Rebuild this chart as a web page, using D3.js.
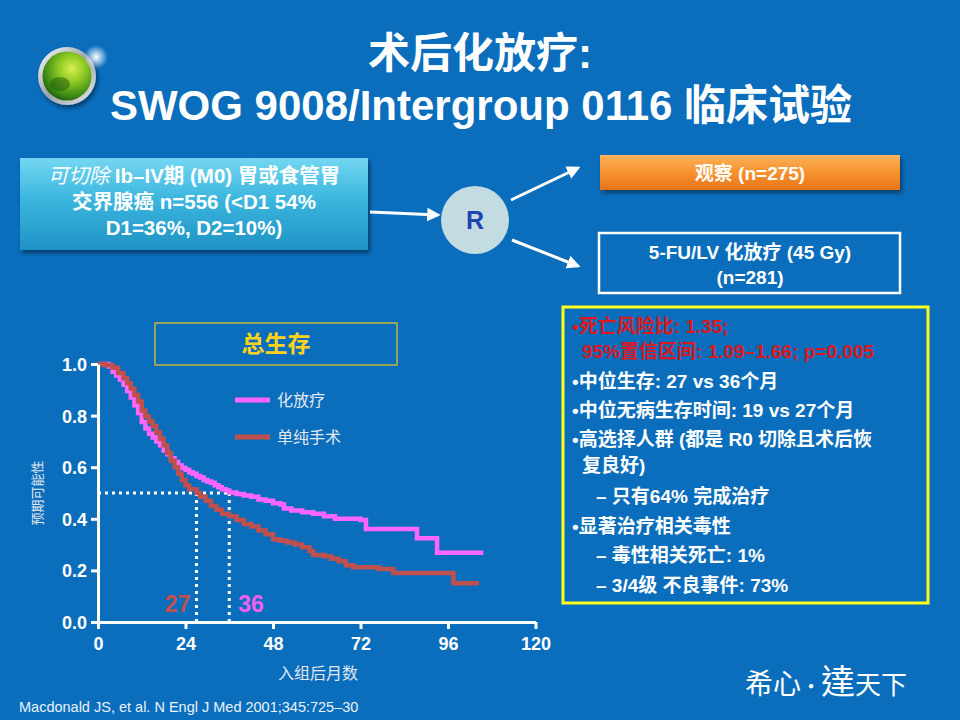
<!DOCTYPE html>
<html><head><meta charset="utf-8">
<script src="https://cdn.jsdelivr.net/npm/d3@7"></script>
<style>html,body{margin:0;padding:0;background:#0A6EBD;}svg{display:block;}</style>
</head><body>
<script>
// ---- data ----
const xTicks = [0, 24, 48, 72, 96, 120];
const yTicks = [0.0, 0.2, 0.4, 0.6, 0.8, 1.0];
const seriesNames = ["化放疗", "单纯手术"];
const chemoMonths = [0,3,4,5,6,7,8,9,10,11,12,13,14,15,16,17,18,19,20,21,22,23,24,25,26,27,28,29,30,31,32,33,34,35,36,38,40,42,44,46,48,50,51,53,56,59,62,65,72,73.5,87.5,93,105.7];
const chemoSurv   = [1.0,0.99,0.97,0.955,0.94,0.92,0.895,0.87,0.84,0.81,0.775,0.75,0.73,0.715,0.70,0.685,0.665,0.65,0.635,0.62,0.607,0.597,0.59,0.58,0.575,0.566,0.56,0.55,0.545,0.54,0.53,0.522,0.515,0.51,0.502,0.496,0.49,0.485,0.475,0.47,0.46,0.455,0.44,0.432,0.425,0.42,0.41,0.40,0.395,0.36,0.325,0.268,0.268];
const surgMonths = [0,2,4,5.5,7,8,9,10,11,12,13,14,15,16,17,18,19,20,21,22,23,24,25,27,28,29.5,31,32.5,34,36,38,40,42,44,46,48,50,52,54,56,58,59,62,64,66,68,70,77,81,97.5,104.5];
const surgSurv   = [1.0,0.995,0.985,0.965,0.945,0.925,0.905,0.88,0.855,0.82,0.797,0.777,0.76,0.735,0.71,0.685,0.655,0.625,0.60,0.575,0.55,0.53,0.515,0.50,0.485,0.47,0.45,0.435,0.42,0.41,0.395,0.38,0.37,0.355,0.34,0.32,0.315,0.308,0.30,0.29,0.275,0.26,0.255,0.245,0.235,0.22,0.212,0.205,0.19,0.15,0.15];
const medianSurg = 27, medianChemo = 36;

const W = 960, H = 720;
const svg = d3.select("body").append("svg").attr("width", W).attr("height", H);
const defs = svg.append("defs");
const SANS = "'Liberation Sans','Noto Sans CJK SC',Arial,sans-serif";
const CJK = "'Noto Sans CJK SC','Liberation Sans',sans-serif";

svg.append("rect").attr("width", W).attr("height", H).attr("fill", "#0A6EBD");

// gradients & filters
const gBox = defs.append("linearGradient").attr("id","gBox").attr("x1",0).attr("y1",0).attr("x2",0).attr("y2",1);
gBox.append("stop").attr("offset","0").attr("stop-color","#74D6F2");
gBox.append("stop").attr("offset","0.45").attr("stop-color","#3BB6DE");
gBox.append("stop").attr("offset","1").attr("stop-color","#1F92C4");
const gOr = defs.append("linearGradient").attr("id","gOr").attr("x1",0).attr("y1",0).attr("x2",0).attr("y2",1);
gOr.append("stop").attr("offset","0").attr("stop-color","#FBB25A");
gOr.append("stop").attr("offset","0.5").attr("stop-color","#F7922E");
gOr.append("stop").attr("offset","1").attr("stop-color","#E6741A");
const sh = defs.append("filter").attr("id","sh").attr("x","-10%").attr("y","-10%").attr("width","130%").attr("height","140%");
sh.append("feDropShadow").attr("dx",2).attr("dy",3).attr("stdDeviation",2).attr("flood-color","#000").attr("flood-opacity",0.45);
const gBall = defs.append("radialGradient").attr("id","gBall").attr("cx","0.6").attr("cy","0.35").attr("r","0.7");
gBall.append("stop").attr("offset","0").attr("stop-color","#D8F050");
gBall.append("stop").attr("offset","0.4").attr("stop-color","#8CC824");
gBall.append("stop").attr("offset","0.8").attr("stop-color","#3C8A14");
gBall.append("stop").attr("offset","1").attr("stop-color","#1E5A0C");
const gRim = defs.append("linearGradient").attr("id","gRim").attr("x1",0).attr("y1",0).attr("x2",1).attr("y2",1);
gRim.append("stop").attr("offset","0").attr("stop-color","#FFFFFF");
gRim.append("stop").attr("offset","0.5").attr("stop-color","#9AA4AA");
gRim.append("stop").attr("offset","1").attr("stop-color","#E8ECEE");
const gFlare = defs.append("radialGradient").attr("id","gFlare");
gFlare.append("stop").attr("offset","0").attr("stop-color","#FFFFFF").attr("stop-opacity",1);
gFlare.append("stop").attr("offset","1").attr("stop-color","#FFFFFF").attr("stop-opacity",0);
const ah = defs.append("marker").attr("id","ah").attr("viewBox","0 0 10 10").attr("refX",8).attr("refY",5)
  .attr("markerWidth",4.5).attr("markerHeight",4.5).attr("orient","auto");
ah.append("path").attr("d","M0,0L10,5L0,10z").attr("fill","#fff");

// logo
svg.append("circle").attr("cx",67).attr("cy",76).attr("r",29).attr("fill","url(#gRim)").attr("filter","url(#sh)");
svg.append("circle").attr("cx",67).attr("cy",76).attr("r",24.5).attr("fill","url(#gBall)");
svg.append("ellipse").attr("cx",60).attr("cy",84).attr("rx",10).attr("ry",7).attr("fill","#1E5A0C").attr("opacity",0.5);
svg.append("circle").attr("cx",96).attr("cy",57).attr("r",12).attr("fill","url(#gFlare)");

// title
svg.append("text").attr("x",480).attr("y",68).attr("text-anchor","middle").attr("fill","#fff")
  .attr("font-family",SANS).attr("font-weight","bold").attr("font-size",42).text("术后化放疗:");
svg.append("text").attr("x",481).attr("y",120).attr("text-anchor","middle").attr("fill","#fff")
  .attr("font-family",SANS).attr("font-weight","bold").attr("font-size",42).text("SWOG 9008/Intergroup 0116 临床试验");

// left box
svg.append("rect").attr("x",20).attr("y",158).attr("width",348).attr("height",92).attr("fill","url(#gBox)").attr("filter","url(#sh)");
const lb = svg.append("text").attr("text-anchor","middle").attr("fill","#fff").attr("font-family",SANS).attr("font-weight","bold").attr("font-size",20.5);
const l1 = lb.append("tspan").attr("x",194).attr("y",183);
l1.append("tspan").attr("font-style","italic").attr("font-weight","normal").text("可切除");
l1.append("tspan").text(" Ib–IV期 (M0) 胃或食管胃");
lb.append("tspan").attr("x",194).attr("y",209).text("交界腺癌 n=556 (<D1 54%");
lb.append("tspan").attr("x",194).attr("y",235).text("D1=36%, D2=10%)");

// arrows & R
svg.append("line").attr("x1",370).attr("y1",212).attr("x2",438).attr("y2",215).attr("stroke","#fff").attr("stroke-width",3).attr("marker-end","url(#ah)");
svg.append("line").attr("x1",511).attr("y1",200).attr("x2",578).attr("y2",168).attr("stroke","#fff").attr("stroke-width",3).attr("marker-end","url(#ah)");
svg.append("line").attr("x1",512).attr("y1",240).attr("x2",578).attr("y2",266).attr("stroke","#fff").attr("stroke-width",3).attr("marker-end","url(#ah)");
svg.append("circle").attr("cx",475).attr("cy",220).attr("r",34).attr("fill","#C3DCE2");
svg.append("text").attr("x",475).attr("y",229).attr("text-anchor","middle").attr("fill","#1E44B0")
  .attr("font-family",SANS).attr("font-weight","bold").attr("font-size",25).text("R");

// right boxes
svg.append("rect").attr("x",600).attr("y",155).attr("width",300).attr("height",35).attr("fill","url(#gOr)").attr("filter","url(#sh)");
svg.append("text").attr("x",750).attr("y",180).attr("text-anchor","middle").attr("fill","#fff").attr("font-family",SANS)
  .attr("font-weight","bold").attr("font-size",19).text("观察 (n=275)");
svg.append("rect").attr("x",599).attr("y",233).attr("width",301).attr("height",60).attr("fill","none").attr("stroke","#fff").attr("stroke-width",2.5);
svg.append("text").attr("x",750).attr("y",259).attr("text-anchor","middle").attr("fill","#fff").attr("font-family",SANS)
  .attr("font-weight","bold").attr("font-size",19).text("5-FU/LV 化放疗 (45 Gy)");
svg.append("text").attr("x",750).attr("y",284).attr("text-anchor","middle").attr("fill","#fff").attr("font-family",SANS)
  .attr("font-weight","bold").attr("font-size",19).text("(n=281)");

// yellow box
svg.append("rect").attr("x",563).attr("y",307).attr("width",365).attr("height",296).attr("fill","none").attr("stroke","#FFFF1A").attr("stroke-width",3);
const bulletLines = [
  {x:572, y:333, t:"•死亡风险比: 1.35;", c:"#DC1820"},
  {x:582, y:358, t:"95%置信区间: 1.09–1.66; p=0.005", c:"#DC1820"},
  {x:572, y:388, t:"•中位生存: 27 vs 36个月", c:"#fff"},
  {x:572, y:417, t:"•中位无病生存时间: 19 vs 27个月", c:"#fff"},
  {x:572, y:446, t:"•高选择人群 (都是 R0 切除且术后恢", c:"#fff"},
  {x:582, y:472, t:"复良好)", c:"#fff"},
  {x:596, y:503, t:"– 只有64% 完成治疗", c:"#fff"},
  {x:572, y:533, t:"•显著治疗相关毒性", c:"#fff"},
  {x:596, y:562, t:"– 毒性相关死亡: 1%", c:"#fff"},
  {x:596, y:592, t:"– 3/4级 不良事件: 73%", c:"#fff"}
];
svg.append("g").selectAll("text").data(bulletLines).join("text")
  .attr("x",d=>d.x).attr("y",d=>d.y).attr("fill",d=>d.c).attr("font-family",SANS)
  .attr("font-weight","bold").attr("font-size",19).text(d=>d.t);

// chart
const x = d3.scaleLinear().domain([0,120]).range([98,535.5]);
const y = d3.scaleLinear().domain([0,1]).range([622,364]);

// title box
svg.append("rect").attr("x",155).attr("y",323).attr("width",242).attr("height",42).attr("fill","none").attr("stroke","#C9B53A").attr("stroke-width",1.5);
svg.append("text").attr("x",276).attr("y",352).attr("text-anchor","middle").attr("fill","#FFD21A").attr("font-family",CJK)
  .attr("font-weight","bold").attr("font-size",23).text("总生存");

// dotted median lines
const dot = svg.append("g").attr("stroke","#fff").attr("stroke-width",3).attr("stroke-dasharray","3,4").attr("fill","none");
dot.append("line").attr("x1",x(0)).attr("x2",x(medianChemo)).attr("y1",y(0.5)).attr("y2",y(0.5));
dot.append("line").attr("x1",x(medianSurg)).attr("x2",x(medianSurg)).attr("y1",y(0.5)).attr("y2",y(0));
dot.append("line").attr("x1",x(medianChemo)).attr("x2",x(medianChemo)).attr("y1",y(0.5)).attr("y2",y(0));

// curves
const line = d3.line().x(d=>x(d[0])).y(d=>y(d[1])).curve(d3.curveStepAfter);
const chemo = chemoMonths.map((m,i)=>[m, chemoSurv[i]]);
const surg = surgMonths.map((m,i)=>[m, surgSurv[i]]);
const colors = ["#FF66FF", "#C0504D"];
svg.append("path").datum(chemo).attr("d",line).attr("fill","none").attr("stroke",colors[0]).attr("stroke-width",4.5);
svg.append("path").datum(surg).attr("d",line).attr("fill","none").attr("stroke",colors[1]).attr("stroke-width",4.5);

// axes
const yAxis = svg.append("g").attr("transform",`translate(${x(0)},0)`)
  .call(d3.axisLeft(y).tickValues(yTicks).tickFormat(d3.format(".1f")).tickSize(7).tickSizeOuter(0).tickPadding(4));
const xAxis = svg.append("g").attr("transform",`translate(0,${y(0)})`)
  .call(d3.axisBottom(x).tickValues(xTicks).tickSize(7).tickSizeOuter(0).tickPadding(4));
[yAxis, xAxis].forEach(a=>{
  a.select(".domain").attr("stroke","#fff").attr("stroke-width",3);
  a.selectAll(".tick line").attr("stroke","#fff").attr("stroke-width",3);
  a.selectAll(".tick text").attr("fill","#fff").attr("font-family",SANS).attr("font-weight","bold").attr("font-size",18);
});
yAxis.selectAll(".tick text").attr("dy","0.36em");
xAxis.selectAll(".tick text").attr("dy","0.95em");

// median labels
svg.append("text").attr("x",x(medianSurg)-6).attr("y",612).attr("text-anchor","end").attr("fill","#C0504D")
  .attr("font-family",SANS).attr("font-weight","bold").attr("font-size",23).text(medianSurg);
svg.append("text").attr("x",x(medianChemo)+9).attr("y",612).attr("fill","#F060F0")
  .attr("font-family",SANS).attr("font-weight","bold").attr("font-size",23).text(medianChemo);

// legend
const leg = svg.append("g");
seriesNames.forEach((n,i)=>{
  const ly = 400 + i*37;
  leg.append("line").attr("x1",235).attr("x2",270).attr("y1",ly).attr("y2",ly).attr("stroke",colors[i]).attr("stroke-width",5);
  leg.append("text").attr("x",277).attr("y",ly+6).attr("fill","#E4E8EE").attr("font-family",CJK).attr("font-size",16).text(n);
});

// axis titles
svg.append("text").attr("transform","translate(42,493) rotate(-90)").attr("text-anchor","middle").attr("fill","#E4E8EE")
  .attr("font-family",CJK).attr("font-size",13).text("预期可能性");
svg.append("text").attr("x",318).attr("y",679).attr("text-anchor","middle").attr("fill","#E4E8EE")
  .attr("font-family",CJK).attr("font-size",16).text("入组后月数");

// citation
svg.append("text").attr("x",19).attr("y",712).attr("fill","#EAF2FA").attr("font-family",SANS).attr("font-size",14.5)
  .text("Macdonald JS, et al. N Engl J Med 2001;345:725–30");

// bottom-right signature
const sig = svg.append("text").attr("y",694).attr("fill","#fff").attr("font-family","'Noto Sans CJK TC','Noto Sans CJK SC',sans-serif");
sig.append("tspan").attr("x",745).attr("font-size",28).text("希心");
sig.append("tspan").attr("font-size",20).text("·");
sig.append("tspan").attr("font-size",34).text("達");
sig.append("tspan").attr("font-size",26).text("天下");
</script>
</body></html>
